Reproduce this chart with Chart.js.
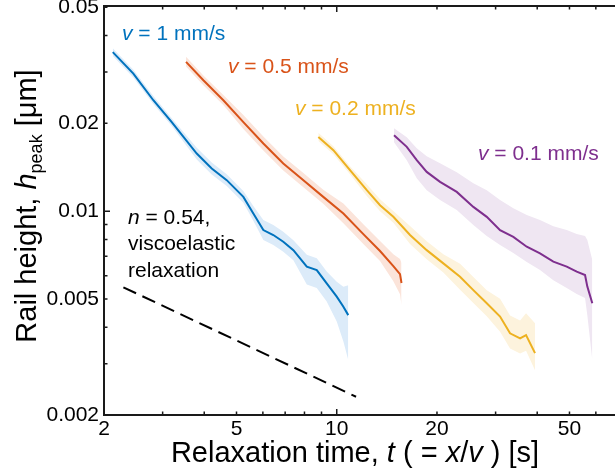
<!DOCTYPE html>
<html>
<head>
<meta charset="utf-8">
<script src="https://cdn.jsdelivr.net/npm/chart.js@4/dist/chart.umd.min.js"></script>
<style>
  html, body { margin: 0; padding: 0; background: #fff; }
</style>
</head>
<body>
<canvas id="myChart" width="615" height="474"></canvas>
<script>
// Tempo de relaxação t [s] e altura h_peak [µm], lidos da figura
// v = 1 mm/s
const tBlue = [2.125, 2.45, 2.813, 3.195, 3.798, 4.213, 4.673, 5.243, 5.617, 6.02, 6.45, 6.91, 7.41, 8.13, 8.71, 9.33, 10.0, 10.47, 10.83];
const hBlue = [0.0351, 0.0296, 0.024, 0.0202, 0.01576, 0.014, 0.01277, 0.01119, 0.00982, 0.00861, 0.00828, 0.00785, 0.00735, 0.00645, 0.00628, 0.00565, 0.00509, 0.0047, 0.0044];
const hBlueUp = [0.0362, 0.0305, 0.0248, 0.0208, 0.0165, 0.01467, 0.01338, 0.01173, 0.01041, 0.00932, 0.00896, 0.00849, 0.00795, 0.00709, 0.0069, 0.00621, 0.00573, 0.0055, 0.00557];
const hBlueLo = [0.034, 0.0287, 0.0233, 0.0196, 0.01504, 0.01336, 0.01219, 0.01068, 0.00926, 0.00796, 0.00765, 0.00726, 0.00679, 0.0056, 0.00545, 0.0049, 0.00418, 0.00357, 0.00309];
// v = 0.5 mm/s
const tRed = [3.527, 3.976, 4.565, 5.243, 6.02, 6.91, 7.94, 9.11, 10.47, 12.02, 13.49, 14.79, 15.49, 15.65];
const hRed = [0.0325, 0.0281, 0.024, 0.0202, 0.01705, 0.01457, 0.01277, 0.01119, 0.00982, 0.00834, 0.0073, 0.00648, 0.00608, 0.00567];
const hRedUp = [0.0338, 0.0292, 0.025, 0.02135, 0.01802, 0.0154, 0.0135, 0.01183, 0.01063, 0.00902, 0.0079, 0.00712, 0.00685, 0.00664];
const hRedLo = [0.0313, 0.027, 0.0231, 0.01911, 0.01613, 0.01378, 0.01208, 0.01059, 0.00908, 0.00771, 0.00675, 0.00575, 0.00519, 0.00476];
// v = 0.2 mm/s
const tYellow = [8.806, 9.77, 10.96, 12.31, 13.49, 14.79, 16.6, 18.63, 20.9, 23.46, 25.72, 28.22, 30.94, 33.15, 35.53, 37.03, 39.4];
const hYellow = [0.01797, 0.01618, 0.01382, 0.0118, 0.01048, 0.00956, 0.00828, 0.00735, 0.00662, 0.00596, 0.00536, 0.00483, 0.00435, 0.00381, 0.00366, 0.00376, 0.00326];
const hYellowUp = [0.01855, 0.0167, 0.01426, 0.01237, 0.01098, 0.01002, 0.00889, 0.00789, 0.00711, 0.0066, 0.00594, 0.00535, 0.00501, 0.00439, 0.00422, 0.00447, 0.00413];
const hYellowLo = [0.01741, 0.01568, 0.01339, 0.01126, 0.01, 0.00912, 0.00771, 0.00684, 0.00616, 0.00538, 0.00484, 0.00436, 0.00386, 0.00338, 0.00325, 0.00332, 0.00285];
// v = 0.1 mm/s
const tPurple = [14.86, 16.23, 17.39, 18.63, 20.43, 22.93, 25.72, 28.22, 30.94, 33.91, 37.21, 40.78, 44.72, 49.06, 52.57, 55.68, 56.57, 58.55];
const hPurple = [0.01821, 0.01661, 0.01495, 0.01363, 0.0126, 0.01164, 0.01034, 0.00956, 0.00861, 0.00816, 0.00755, 0.00716, 0.00671, 0.00645, 0.0062, 0.00604, 0.00551, 0.00483];
const hPurpleUp = [0.01924, 0.01792, 0.01644, 0.01543, 0.0146, 0.0136, 0.01247, 0.0118, 0.01091, 0.01024, 0.00969, 0.00932, 0.00888, 0.00861, 0.00834, 0.00821, 0.00796, 0.0068];
const hPurpleLo = [0.01723, 0.01495, 0.01297, 0.0118, 0.01091, 0.01008, 0.00896, 0.00821, 0.00765, 0.00718, 0.00669, 0.00628, 0.0058, 0.00545, 0.0052, 0.00504, 0.0044, 0.00309];
// reta n = 0.54
const tSlope = [2.287, 11.43];
const hSlope = [0.00548, 0.00231];

// ticks
const xLabels = [2, 5, 10, 20, 50];
const yLabels = [0.002, 0.005, 0.01, 0.02, 0.05];
const xMinor = [2, 3, 4, 5, 6, 7, 8, 9, 10, 20, 30, 40, 50, 60];
const yMinor = [0.002, 0.003, 0.004, 0.005, 0.006, 0.007, 0.008, 0.009, 0.01, 0.02, 0.03, 0.04, 0.05];

const FONT = "'Liberation Sans', Arial, sans-serif";
const INK = "#1a1a1a";

const pts = (t, h) => t.map((v, i) => ({ x: v, y: h[i] }));

// monta as 4 séries: linha + faixa (superior / inferior)
const series = [
  { t: tBlue, h: hBlue, up: hBlueUp, lo: hBlueLo, cor: "#0072BD", faixa: "#DCEBF9" },
  { t: tRed, h: hRed, up: hRedUp, lo: hRedLo, cor: "#D95319", faixa: "#FBE4DA" },
  { t: tYellow, h: hYellow, up: hYellowUp, lo: hYellowLo, cor: "#EDB120", faixa: "#FDF3DD" },
  { t: tPurple, h: hPurple, up: hPurpleUp, lo: hPurpleLo, cor: "#7E2F8E", faixa: "#EFE6F2" },
];

const datasets = [];
series.forEach((s) => {
  datasets.push({ data: pts(s.t, s.h), borderColor: s.cor, borderWidth: 2, pointRadius: 0, fill: false, order: 0 });
});
datasets.push({ data: pts(tSlope, hSlope), borderColor: "#000", borderWidth: 2, borderDash: [14, 7], pointRadius: 0, fill: false, order: 0 });
series.forEach((s) => {
  const iUp = datasets.length;
  datasets.push({ data: pts(s.t, s.up), borderWidth: 0, pointRadius: 0, fill: false, order: 1 });
  datasets.push({ data: pts(s.t, s.lo), borderWidth: 0, pointRadius: 0, backgroundColor: s.faixa, fill: iUp, order: 1 });
});

// texto com partes em itálico
const drawRich = (ctx, parts, x, y, cor, align) => {
  let w = 0;
  parts.forEach((p) => {
    ctx.font = (p.i ? "italic " : "") + p.size + "px " + FONT;
    w += ctx.measureText(p.t).width;
  });
  let cx = align === "center" ? x - w / 2 : x;
  ctx.fillStyle = cor;
  ctx.textBaseline = "alphabetic";
  ctx.textAlign = "left";
  parts.forEach((p) => {
    ctx.font = (p.i ? "italic " : "") + p.size + "px " + FONT;
    ctx.fillText(p.t, cx, y + (p.dy || 0));
    cx += ctx.measureText(p.t).width;
  });
};

const labelV = (n) => [{ t: "v", i: true, size: 21 }, { t: " = " + n + " mm/s", size: 21 }];

const extras = {
  id: "extras",
  afterDraw(chart) {
    const { ctx, chartArea: a, scales } = chart;
    const x = scales.x, y = scales.y;
    ctx.save();
    ctx.strokeStyle = INK;
    ctx.lineWidth = 2;
    ctx.beginPath();
    ctx.moveTo(a.left - 1, a.top);
    ctx.lineTo(a.right, a.top);
    ctx.stroke();
    ctx.lineWidth = 1.5;
    ctx.beginPath();
    xMinor.forEach((v) => {
      const px = x.getPixelForValue(v);
      const len = v === 10 ? 6 : 3.5;
      ctx.moveTo(px, a.bottom);
      ctx.lineTo(px, a.bottom - len);
      ctx.moveTo(px, a.top);
      ctx.lineTo(px, a.top + len);
    });
    yMinor.forEach((v) => {
      const py = y.getPixelForValue(v);
      const len = v === 0.01 ? 6 : 3.5;
      ctx.moveTo(a.left, py);
      ctx.lineTo(a.left + len, py);
    });
    ctx.stroke();

    // rótulos das séries
    drawRich(ctx, labelV("1"), 122, 40, "#0072BD");
    drawRich(ctx, labelV("0.5"), 228, 73, "#D95319");
    drawRich(ctx, labelV("0.2"), 295, 115, "#EDB120");
    drawRich(ctx, labelV("0.1"), 478, 160, "#7E2F8E");
    drawRich(ctx, [{ t: "n", i: true, size: 21 }, { t: " = 0.54,", size: 21 }], 128, 224, "#000");
    drawRich(ctx, [{ t: "viscoelastic", size: 21 }], 128, 250, "#000");
    drawRich(ctx, [{ t: "relaxation", size: 21 }], 128, 277, "#000");

    // títulos dos eixos
    drawRich(ctx, [
      { t: "Relaxation time, ", size: 29 },
      { t: "t", i: true, size: 29 },
      { t: " ( = ", size: 29 },
      { t: "x", i: true, size: 29 },
      { t: "/", size: 29 },
      { t: "v", i: true, size: 29 },
      { t: " ) [s]", size: 29 },
    ], 355, 462, "#000", "center");
    ctx.translate(36, 206);
    ctx.rotate(-Math.PI / 2);
    drawRich(ctx, [
      { t: "Rail height, ", size: 29 },
      { t: "h", i: true, size: 29 },
      { t: "peak", size: 18, dy: 6 },
      { t: " [\u03bcm]", size: 29 },
    ], 0, 0, "#000", "center");
    ctx.restore();
  },
};

const ctx = document.getElementById("myChart").getContext("2d");
const chart = new Chart(ctx, {
  type: "line",
  data: { datasets: datasets },
  options: {
    responsive: false,
    animation: false,
    layout: { padding: { top: 6, right: 0, left: 0, bottom: 0 } },
    elements: { line: { tension: 0 } },
    plugins: {
      legend: { display: false },
      tooltip: { enabled: false },
      filler: { drawTime: "beforeDatasetsDraw" },
    },
    scales: {
      x: {
        type: "logarithmic",
        min: 2,
        max: 68.5,
        grid: { display: false, drawTicks: false },
        border: { display: true, color: INK, width: 2 },
        ticks: { color: "#000", font: { family: FONT, size: 21 }, padding: 2, maxRotation: 0, autoSkip: false, callback: (v) => String(v) },
        afterBuildTicks: (s) => { s.ticks = xLabels.map((v) => ({ value: v })); },
        afterFit: (s) => { s.height = 59; s.paddingLeft = 0; s.paddingRight = 0; },
      },
      y: {
        type: "logarithmic",
        min: 0.002,
        max: 0.0505,
        grid: { display: false, drawTicks: false },
        border: { display: true, color: INK, width: 2 },
        ticks: { color: "#000", font: { family: FONT, size: 21 }, padding: 5, autoSkip: false, callback: (v) => String(v) },
        afterBuildTicks: (s) => { s.ticks = yLabels.map((v) => ({ value: v })); },
        afterFit: (s) => { s.width = 104; s.paddingTop = 0; s.paddingBottom = 0; },
      },
    },
  },
  plugins: [extras],
});
</script>
</body>
</html>
